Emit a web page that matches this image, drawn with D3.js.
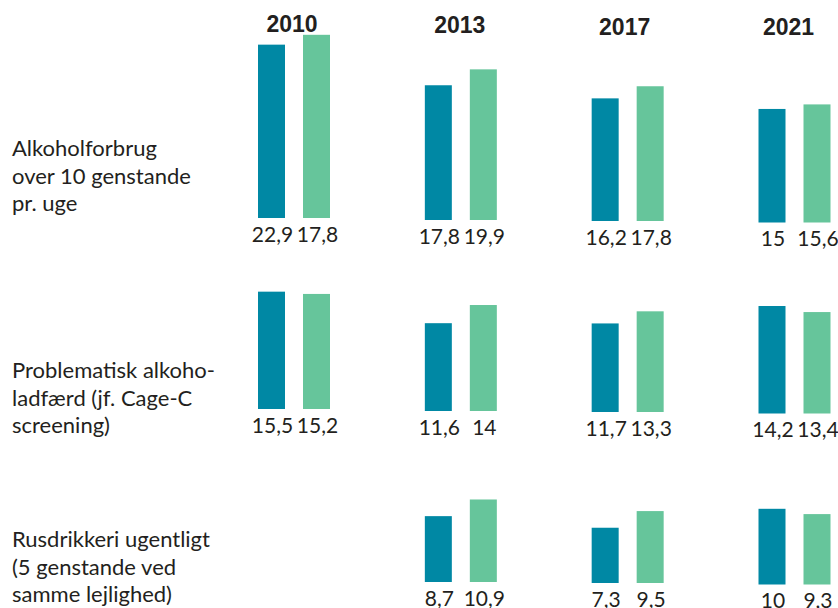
<!DOCTYPE html>
<html>
<head>
<meta charset="utf-8">
<script src="https://cdn.jsdelivr.net/npm/d3@7"></script>
<style>
  body { margin: 0; background: #fff; }
  text { font-family: Lato, "Open Sans", sans-serif; fill: #231f20; }
</style>
</head>
<body>
<div id="chart"></div>
<script>
// data
var years = ["2010", "2013", "2017", "2021"];
var series = ["serie1", "serie2"];
var rowLabels = [
    ["Alkoholforbrug", "over 10 genstande", "pr. uge"],
    ["Problematisk alkoho-", "ladfærd (jf. Cage-C", "screening)"],
    ["Rusdrikkeri ugentligt", "(5 genstande ved", "samme lejlighed)"]
];
// bar heights as drawn (per row, per year, per series)
var barValues = [
    [[22.9, 24.2], [17.8, 19.9], [16.2, 17.8], [15, 15.6]],
    [[15.5, 15.2], [11.6, 14], [11.7, 13.3], [14.2, 13.4]],
    [null, [8.7, 10.9], [7.3, 9.5], [10, 9.3]]
];
// value labels as printed
var barLabels = [
    [["22,9", "17,8"], ["17,8", "19,9"], ["16,2", "17,8"], ["15", "15,6"]],
    [["15,5", "15,2"], ["11,6", "14"], ["11,7", "13,3"], ["14,2", "13,4"]],
    [null, ["8,7", "10,9"], ["7,3", "9,5"], ["10", "9,3"]]
];

var colors = ["#0088a4", "#66c59b"];

var width = 838, height = 608;
var rowBase = [218, 409, 580];
var colShift = [0, 2, 3, 4.5];
var rowTextY = [156, 378, 547];

var svg = d3.select("#chart").append("svg")
    .attr("width", width)
    .attr("height", height);

var x = d3.scalePoint().domain(years).range([294, 794.5]);
var xInner = d3.scaleBand().domain(series).range([-36, 36]).paddingInner(0.4);
var y = d3.scaleLinear().domain([0, 25]).range([0, 25 * 7.57]);
var color = d3.scaleOrdinal().domain(series).range(colors);

// year headers
var yearDx = [-2, -1, -3, -6];
var yearY = [32, 33, 35, 35];
svg.selectAll(".year")
    .data(years)
    .enter().append("text")
    .attr("class", "year")
    .attr("x", function(d, i) { return x(d) + yearDx[i]; })
    .attr("y", function(d, i) { return yearY[i]; })
    .attr("text-anchor", "middle")
    .style("font-family", "'Liberation Sans', Arial, sans-serif")
    .style("font-weight", "bold")
    .style("font-size", "23px")
    .text(function(d) { return d; });

// rows
barValues.forEach(function(row, r) {
    var g = svg.append("g");

    g.append("text")
        .attr("x", 12)
        .attr("y", rowTextY[r])
        .style("font-size", "22px")
        .selectAll("tspan")
        .data(rowLabels[r])
        .enter().append("tspan")
        .attr("x", 12)
        .attr("dy", function(d, i) { return i === 0 ? 0 : 27.5; })
        .text(function(d) { return d; });

    row.forEach(function(pair, c) {
        if (!pair) return;
        var base = rowBase[r] + colShift[c];
        var cell = g.append("g")
            .attr("transform", "translate(" + x(years[c]) + "," + base + ")");

        cell.selectAll("rect")
            .data(pair)
            .enter().append("rect")
            .attr("x", function(d, i) { return xInner(series[i]); })
            .attr("y", function(d) { return -y(d); })
            .attr("width", xInner.bandwidth())
            .attr("height", function(d) { return y(d); })
            .attr("fill", function(d, i) { return color(series[i]); });

        cell.selectAll(".val")
            .data(barLabels[r][c])
            .enter().append("text")
            .attr("class", "val")
            .attr("x", function(d, i) { return xInner(series[i]) + xInner.bandwidth() / 2 + 1; })
            .attr("y", 23.5)
            .attr("text-anchor", "middle")
            .style("font-size", "21px")
            .text(function(d) { return d; });
    });
});
</script>
</body>
</html>
